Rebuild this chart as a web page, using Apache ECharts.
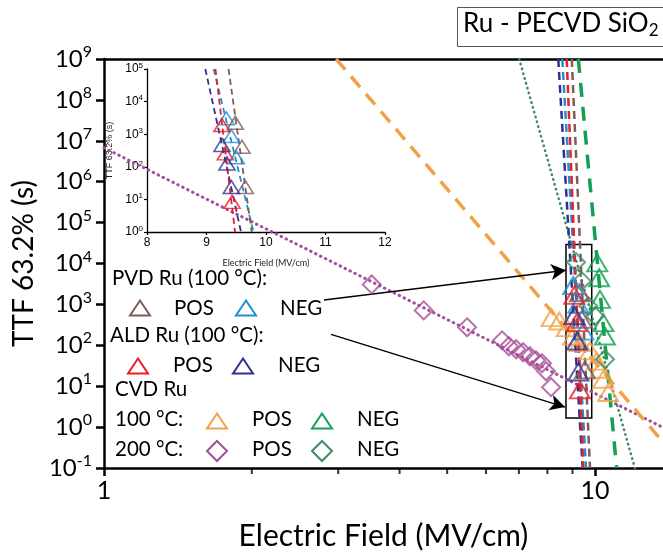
<!DOCTYPE html>
<html>
<head>
<meta charset="utf-8">
<script src="https://cdn.jsdelivr.net/npm/echarts@6/dist/echarts.min.js"></script>
<style>
  html, body { margin: 0; padding: 0; background: #fff; }
  #echart { width: 663px; height: 556px; }
</style>
</head>
<body>
<div id="echart"></div>
<script>
// ---- main plot data [E (MV/cm), TTF (s)] ----
const cvd100Pos = [[8.16, 474], [8.46, 392], [8.76, 270], [9.03, 169], [9.32, 116], [9.77, 73], [10.08, 41], [10.24, 26], [10.40, 14.8], [10.64, 7.0]];
const cvd100Neg = [[10.11, 10400], [10.20, 4480], [10.24, 1325], [10.40, 358], [10.48, 169]];
const cvd200Pos = [[3.51, 3076], [4.48, 714], [5.49, 275], [6.47, 132], [6.68, 94.6], [6.91, 80], [7.14, 67.5], [7.37, 54], [7.58, 43], [7.80, 36.4], [7.95, 23.2], [8.14, 9.46]];
const cvd200Neg = [[9.15, 10760], [9.40, 3700], [9.69, 910], [10.0, 519], [10.48, 45.6]];
const pvdPos = [[9.32, 1930], [9.40, 430], [9.54, 25]];
const pvdNeg = [[9.03, 2900], [9.25, 1000], [9.47, 223]];
const aldPos = [[9.08, 1660], [9.18, 358], [9.32, 8.1]];
const aldNeg = [[9.08, 530], [9.20, 127], [9.25, 22.3]];

// fit lines (end points)
const fitPvdPos = [[8.97, 1e9], [9.77, 0.1]];
const fitPvdNeg = [[8.58, 1e9], [9.59, 0.1]];
const fitAldPos = [[8.76, 1e9], [9.47, 0.1]];
const fitAldNeg = [[8.42, 1e9], [9.44, 0.1]];
const fitCvd100Pos = [[2.97, 1e9], [13.76, 0.43]];
const fitCvd100Neg = [[9.25, 1e9], [11.07, 0.1]];
const fitCvd200Pos = [[1, 6.75e6], [13.76, 0.98]];
const fitCvd200Neg = [[7.01, 1e9], [12.06, 0.1]];

// zoom box and arrows
const zoomBox = [[8.73, 1.66], [9.85, 29040]];
const arrow1 = [[2.806, 1274], [8.73, 6870]];
const arrow2 = [[2.90, 185], [8.69, 3.08]];

// ---- inset data ----
const inPvdPos = [[9.484, 2260], [9.597, 412], [9.652, 24]];
const inPvdNeg = [[9.333, 3080], [9.417, 880], [9.50, 195]];
const inAldPos = [[9.26, 1920], [9.316, 258], [9.43, 8.4]];
const inAldNeg = [[9.26, 465], [9.344, 127], [9.417, 24]];
const inFitPvdPos = [[9.37, 1e5], [9.76, 1]];
const inFitPvdNeg = [[9.12, 1e5], [9.79, 1]];
const inFitAldPos = [[9.15, 1e5], [9.48, 1]];
const inFitAldNeg = [[8.98, 1e5], [9.58, 1]];

const xMinorTicks = [2, 3, 4, 5, 6, 7, 8, 9];
const xMax = 13.76;

const C = {
  pvdPos: '#7f5b5b', pvdNeg: '#1e8fd5', aldPos: '#ee1c25', aldNeg: '#2e3192',
  c100Pos: '#f2a146', c100Neg: '#13a052', c200Pos: '#a64e98', c200Neg: '#3e8b62'
};
const FONT = 'Lato';

const chart = echarts.init(document.getElementById('echart'));

function pts(name, data, color, symbol, size, bw, xi, yi) {
  return {
    name, type: 'scatter', data, xAxisIndex: xi, yAxisIndex: yi,
    symbol, symbolSize: size, z: 5,
    itemStyle: { color: 'rgba(0,0,0,0)', borderColor: color, borderWidth: bw }
  };
}
function fit(data, color, width, dash, xi, yi, cap) {
  return {
    type: 'line', data, xAxisIndex: xi, yAxisIndex: yi, symbol: 'none', silent: true, z: 3,
    lineStyle: { color, width, type: dash, cap: cap || 'butt' }
  };
}

// legend drawn as graphic
const legendItems = [];
function txt(x, y, s, size) {
  legendItems.push({ type: 'text', left: x, top: y - (size || 20) * 0.62,
    style: { text: s, fontSize: size || 20, fontFamily: FONT, fill: '#000' } });
}
function tri(x, y, color) {
  legendItems.push({ type: 'polygon', shape: { points: [[x - 10, y + 7.5], [x + 10, y + 7.5], [x, y - 7.5]] },
    style: { fill: 'none', stroke: color, lineWidth: 2 } });
}
function dia(x, y, color) {
  legendItems.push({ type: 'polygon', shape: { points: [[x, y - 10], [x + 10, y], [x, y + 10], [x - 10, y]] },
    style: { fill: 'none', stroke: color, lineWidth: 2 } });
}
txt(112, 281, 'PVD Ru (100 °C):', 20.5);
tri(140, 308, C.pvdPos); txt(174, 311, 'POS', 20.5);
tri(246, 308, C.pvdNeg); txt(280, 311, 'NEG', 20.5);
txt(110, 338, 'ALD Ru (100 °C):', 20.5);
tri(138, 366, C.aldPos); txt(173, 368, 'POS', 20.5);
tri(243, 366, C.aldNeg); txt(278, 368, 'NEG', 20.5);
txt(115, 392, 'CVD Ru', 20.5);
txt(115, 422, '100 °C:', 20.5);
tri(217, 421, C.c100Pos); txt(252, 422, 'POS', 20.5);
tri(322, 421, C.c100Neg); txt(357, 422, 'NEG', 20.5);
txt(115, 452, '200 °C:', 20.5);
dia(217, 451, C.c200Pos); txt(252, 452, 'POS', 20.5);
dia(322, 451, C.c200Neg); txt(357, 452, 'NEG', 20.5);

const supLabel = (big, small, raise) => ({
  b: { fontSize: big, fontFamily: FONT, color: '#000' },
  s: { fontSize: small, fontFamily: FONT, color: '#000', padding: [0, 0, raise, 0] }
});
const isDecade = v => Math.abs(Math.log10(v) - Math.round(Math.log10(v))) < 1e-6;

const option = {
  animation: false,
  backgroundColor: '#fff',
  grid: [
    { left: 104, top: 59, width: 559, height: 410 },
    { left: 147, top: 69, width: 238, height: 163 }
  ],
  xAxis: [
    {
      gridIndex: 0, type: 'log', min: 1, max: xMax,
      name: 'Electric Field (MV/cm)', nameLocation: 'middle', nameGap: 53,
      nameTextStyle: { fontSize: 30, fontFamily: FONT, color: '#000' },
      axisLine: { lineStyle: { color: '#000', width: 2.5 } },
      axisTick: { length: 8, lineStyle: { color: '#000', width: 2.5 } },
      axisLabel: { fontSize: 25, fontFamily: FONT, color: '#000', margin: 10,
        showMaxLabel: false, formatter: v => isDecade(v) ? String(Math.round(v)) : '' },
      splitLine: { show: false }, minorTick: { show: false }
    },
    {
      gridIndex: 0, type: 'log', min: 1, max: xMax, position: 'top',
      axisLine: { lineStyle: { color: '#000', width: 2.5 } },
      axisTick: { show: false }, axisLabel: { show: false }, splitLine: { show: false }
    },
    {
      gridIndex: 1, type: 'value', min: 8, max: 12, interval: 1,
      name: 'Electric Field (MV/cm)', nameLocation: 'middle', nameGap: 27,
      nameTextStyle: { fontSize: 9, fontFamily: FONT, color: '#222' },
      axisLine: { lineStyle: { color: '#000', width: 1.3 } },
      axisTick: { length: 3, lineStyle: { color: '#000', width: 1.2 } },
      axisLabel: { fontSize: 12, fontFamily: 'Liberation Sans', color: '#000', margin: 5 },
      splitLine: { show: false }
    }
  ],
  yAxis: [
    {
      gridIndex: 0, type: 'log', min: 0.1, max: 1e9, splitNumber: 10,
      name: 'TTF 63.2% (s)', nameLocation: 'middle', nameGap: 58,
      nameTextStyle: { fontSize: 28, fontFamily: FONT, color: '#000' },
      axisLine: { lineStyle: { color: '#000', width: 2.5 } },
      axisTick: { length: 8, lineStyle: { color: '#000', width: 2.5 } },
      axisLabel: { margin: 12, formatter: v => '{b|10}{s|' + Math.round(Math.log10(v)) + '}',
        rich: supLabel(24, 16, 14) },
      splitLine: { show: false }
    },
    {
      gridIndex: 1, type: 'log', min: 1, max: 1e5, splitNumber: 5,
      name: 'TTF 63.2% (s)', nameLocation: 'middle', nameGap: 33,
      nameTextStyle: { fontSize: 9, fontFamily: 'Liberation Sans', color: '#222' },
      axisLine: { lineStyle: { color: '#000', width: 1.3 } },
      axisTick: { length: 3, lineStyle: { color: '#000', width: 1.2 } },
      axisLabel: { margin: 4, formatter: v => '{b|10}{s|' + Math.round(Math.log10(v)) + '}',
        rich: {
          b: { fontSize: 12, fontFamily: 'Liberation Sans', color: '#000' },
          s: { fontSize: 8, fontFamily: 'Liberation Sans', color: '#000', padding: [0, 0, 7, 0] }
        } },
      splitLine: { show: false }
    }
  ],
  graphic: [
    { type: 'rect', shape: { x: 457.5, y: 7.5, width: 230, height: 39 },
      style: { fill: '#fff', stroke: '#555', lineWidth: 1 }, z: 10 },
    { type: 'text', left: 463, top: 11, z: 11,
      style: { text: '{a|Ru - PECVD SiO}{b|2}',
        rich: { a: { fontSize: 26, fontFamily: FONT, fill: '#000' },
                b: { fontSize: 17, fontFamily: FONT, fill: '#000', padding: [14, 0, 0, 0] } } } }
  ].concat(legendItems),
  series: [
    // main fits
    fit(fitCvd200Pos, C.c200Pos, 3, [0.5, 5], 0, 0, 'round'),
    fit(fitCvd200Neg, C.c200Neg, 2.5, [0.5, 4.5], 0, 0, 'round'),
    fit(fitCvd100Pos, C.c100Pos, 3.5, [14, 9], 0, 0),
    fit(fitCvd100Neg, C.c100Neg, 3.5, [14, 10], 0, 0),
    fit(fitAldNeg, C.aldNeg, 2.5, [8, 5], 0, 0),
    fit(fitPvdNeg, C.pvdNeg, 2.5, [8, 5], 0, 0),
    fit(fitAldPos, C.aldPos, 2.5, [8, 5], 0, 0),
    fit(fitPvdPos, C.pvdPos, 2.5, [8, 5], 0, 0),
    // main points
    pts('CVD 200 POS', cvd200Pos, C.c200Pos, 'diamond', 18, 2, 0, 0),
    pts('CVD 100 POS', cvd100Pos, C.c100Pos, 'triangle', [20, 17], 2, 0, 0),
    pts('CVD 100 NEG', cvd100Neg, C.c100Neg, 'triangle', [20, 17], 2, 0, 0),
    pts('CVD 200 NEG', cvd200Neg, C.c200Neg, 'diamond', 18, 2, 0, 0),
    pts('PVD POS', pvdPos, C.pvdPos, 'triangle', [20, 17], 2, 0, 0),
    pts('PVD NEG', pvdNeg, C.pvdNeg, 'triangle', [20, 17], 2, 0, 0),
    pts('ALD POS', aldPos, C.aldPos, 'triangle', [20, 17], 2, 0, 0),
    pts('ALD NEG', aldNeg, C.aldNeg, 'triangle', [20, 17], 2, 0, 0),
    // zoom box + arrows
    {
      type: 'line', data: [], xAxisIndex: 0, yAxisIndex: 0, silent: true,
      markArea: { silent: true, itemStyle: { color: 'rgba(0,0,0,0)', borderColor: '#000', borderWidth: 1.5 },
        data: [[{ coord: zoomBox[0] }, { coord: zoomBox[1] }]] },
      markLine: { silent: true, symbol: ['none', 'arrow'], symbolSize: [12, 15],
        label: { show: false }, lineStyle: { color: '#000', width: 1.5, type: 'solid' },
        data: [
          [{ coord: arrow1[0] }, { coord: arrow1[1] }],
          [{ coord: arrow2[0] }, { coord: arrow2[1] }]
        ] }
    },
    // minor ticks on the log x axis
    {
      type: 'scatter', xAxisIndex: 0, yAxisIndex: 0, silent: true, clip: false,
      data: xMinorTicks.map(v => [v, 0.1]), symbol: 'rect', symbolSize: [2, 5], symbolOffset: [0, 3.5],
      itemStyle: { color: '#000' }
    },
    // inset
    fit(inFitAldNeg, C.aldNeg, 1.8, [6, 4], 2, 1),
    fit(inFitPvdNeg, C.pvdNeg, 1.8, [6, 4], 2, 1),
    fit(inFitAldPos, C.aldPos, 1.8, [6, 4], 2, 1),
    fit(inFitPvdPos, C.pvdPos, 1.8, [6, 4], 2, 1),
    pts('in PVD POS', inPvdPos, C.pvdPos, 'triangle', [16, 13], 1.6, 2, 1),
    pts('in PVD NEG', inPvdNeg, C.pvdNeg, 'triangle', [16, 13], 1.6, 2, 1),
    pts('in ALD POS', inAldPos, C.aldPos, 'triangle', [16, 13], 1.6, 2, 1),
    pts('in ALD NEG', inAldNeg, C.aldNeg, 'triangle', [16, 13], 1.6, 2, 1)
  ]
};

chart.setOption(option);
</script>
</body>
</html>
